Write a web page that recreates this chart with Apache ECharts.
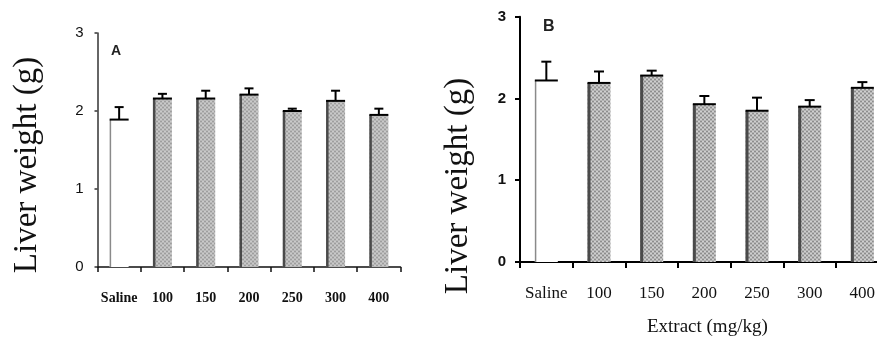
<!DOCTYPE html>
<html>
<head>
<meta charset="utf-8">
<script src="https://cdn.jsdelivr.net/npm/echarts@6/dist/echarts.min.js"></script>
<style>html,body{margin:0;padding:0;background:#fff;overflow:hidden;width:877px;height:342px;}#c{width:889px;height:342px;}</style>
</head>
<body>
<div id="c"></div>
<script>
// ---- data ----
const categories = ['Saline', '100', '150', '200', '250', '300', '400'];
const meanA = [1.89, 2.16, 2.16, 2.21, 2.00, 2.13, 1.95];
const errTopA = [2.05, 2.22, 2.26, 2.29, 2.03, 2.26, 2.03];
const meanB = [2.22, 2.19, 2.28, 1.93, 1.85, 1.90, 2.13];
const errTopB = [2.45, 2.33, 2.34, 2.03, 2.01, 1.98, 2.20];
const yTicks = [0, 1, 2, 3];
const yTitle = 'Liver weight (g)';
const xTitle = 'Extract (mg/kg)';

function makePattern(c1, c2, c3) {
  const cv = document.createElement('canvas');
  cv.width = 4; cv.height = 4;
  const g = cv.getContext('2d');
  g.fillStyle = c1; g.fillRect(0, 0, 4, 4);
  g.fillStyle = c2; g.fillRect(0, 1, 2, 1); g.fillRect(2, 3, 2, 1);
  g.fillStyle = c3; g.fillRect(2, 1, 2, 1); g.fillRect(0, 3, 2, 1);
  return cv;
}
const patA = makePattern('#b8b8b8', '#9e9e9e', '#cacaca');
const patB = makePattern('#b4b4b4', '#8e8e8e', '#d0d0d0');

const chart = echarts.init(document.getElementById('c'), null, {renderer: 'canvas', width: 889, height: 342});

function barData(vals, pat) {
  return vals.map((v, i) => ({
    value: v,
    itemStyle: { color: i === 0 ? '#ffffff' : { image: pat, repeat: 'repeat' } }
  }));
}
function decoData(vals, errs) {
  return vals.map((v, i) => [i, v, errs[i]]);
}
function decoRender(bw, capW, edgeW, lw) {
  return function (params, api) {
    const i = api.value(0), v = api.value(1), e = api.value(2);
    const top = api.coord([i, v]);
    const base = api.coord([i, 0]);
    const et = api.coord([i, e]);
    const x0 = top[0] - bw / 2;
    const saline = i === 0;
    return {
      type: 'group',
      children: [
        { type: 'rect', shape: { x: x0, y: top[1], width: saline ? 1.5 : edgeW, height: base[1] - top[1] },
          style: { fill: saline ? '#8a8a8a' : '#4a4a4a' } },
        { type: 'line', shape: { x1: top[0], y1: top[1], x2: top[0], y2: et[1] },
          style: { stroke: '#000', lineWidth: lw } },
        { type: 'line', shape: { x1: top[0] - capW / 2, y1: et[1], x2: top[0] + capW / 2, y2: et[1] },
          style: { stroke: '#000', lineWidth: lw } },
        { type: 'line', shape: { x1: x0, y1: top[1], x2: x0 + bw, y2: top[1] },
          style: { stroke: '#000', lineWidth: 2 } }
      ]
    };
  };
}

const serif = "'Liberation Serif', 'Times New Roman', serif";
const narrow = "'Liberation Sans Narrow', 'Liberation Sans', Arial, sans-serif";
const sans = "'Liberation Sans', Arial, sans-serif";

chart.setOption({
  animation: false,
  backgroundColor: '#ffffff',
  grid: [
    { left: 97.5, top: 33, width: 303, height: 234, containLabel: false },
    { left: 520, top: 16.7, width: 368.7, height: 245.6, containLabel: false }
  ],
  xAxis: [
    { type: 'category', gridIndex: 0, data: categories,
      axisLine: { lineStyle: { color: '#111', width: 1.5 } },
      axisTick: { show: true, interval: 0, length: 5, lineStyle: { color: '#111', width: 1.5 } },
      axisLabel: { interval: 0, margin: 24, fontFamily: serif, fontWeight: 'bold', fontSize: 14, color: '#111' } },
    { type: 'category', gridIndex: 1, data: categories,
      axisLine: { lineStyle: { color: '#000', width: 2 } },
      axisTick: { show: true, interval: 0, length: 6, lineStyle: { color: '#000', width: 2 } },
      axisLabel: { interval: 0, margin: 23, fontFamily: serif, fontSize: 17, color: '#111' },
      name: xTitle, nameLocation: 'middle', nameGap: 56,
      nameTextStyle: { fontFamily: serif, fontSize: 19, color: '#111', padding: [0, 0, 0, 6] } }
  ],
  yAxis: [
    { type: 'value', gridIndex: 0, min: 0, max: 3, interval: 1,
      splitLine: { show: false },
      axisLine: { show: true, lineStyle: { color: '#333', width: 1.5 } },
      axisTick: { show: true, length: 3, lineStyle: { color: '#333', width: 1.5 } },
      axisLabel: { margin: 14, fontFamily: narrow, fontSize: 15, color: '#111',
                   formatter: v => yTicks.includes(v) ? String(v) : '' } },
    { type: 'value', gridIndex: 1, min: 0, max: 3, interval: 1,
      splitLine: { show: false },
      axisLine: { show: true, lineStyle: { color: '#000', width: 2 } },
      axisTick: { show: true, length: 5, lineStyle: { color: '#000', width: 2 } },
      axisLabel: { margin: 14, fontFamily: sans, fontWeight: 'bold', fontSize: 15, color: '#111',
                   formatter: v => yTicks.includes(v) ? String(v) : '' } }
  ],
  series: [
    { type: 'bar', xAxisIndex: 0, yAxisIndex: 0, barWidth: 19, data: barData(meanA, patA) },
    { type: 'custom', xAxisIndex: 0, yAxisIndex: 0, data: decoData(meanA, errTopA),
      renderItem: decoRender(19, 9, 2.5, 2), z: 3 },
    { type: 'bar', xAxisIndex: 1, yAxisIndex: 1, barWidth: 23, data: barData(meanB, patB) },
    { type: 'custom', xAxisIndex: 1, yAxisIndex: 1, data: decoData(meanB, errTopB),
      renderItem: decoRender(23, 10, 3, 2), z: 3 }
  ],
  graphic: [
    { type: 'text', x: 27, y: 165, rotation: Math.PI / 2,
      style: { text: yTitle, fontFamily: serif, fontSize: 33, fill: '#111', align: 'center', verticalAlign: 'middle' } },
    { type: 'text', x: 458, y: 186, rotation: Math.PI / 2,
      style: { text: yTitle, fontFamily: serif, fontSize: 33, fill: '#111', align: 'center', verticalAlign: 'middle' } },
    { type: 'text', left: 111, top: 44, style: { text: 'A', fontFamily: sans, fontWeight: 'bold', fontSize: 14, fill: '#222' } },
    { type: 'text', left: 543, top: 19, style: { text: 'B', fontFamily: sans, fontWeight: 'bold', fontSize: 16, fill: '#222' } }
  ]
});
</script>
</body>
</html>
